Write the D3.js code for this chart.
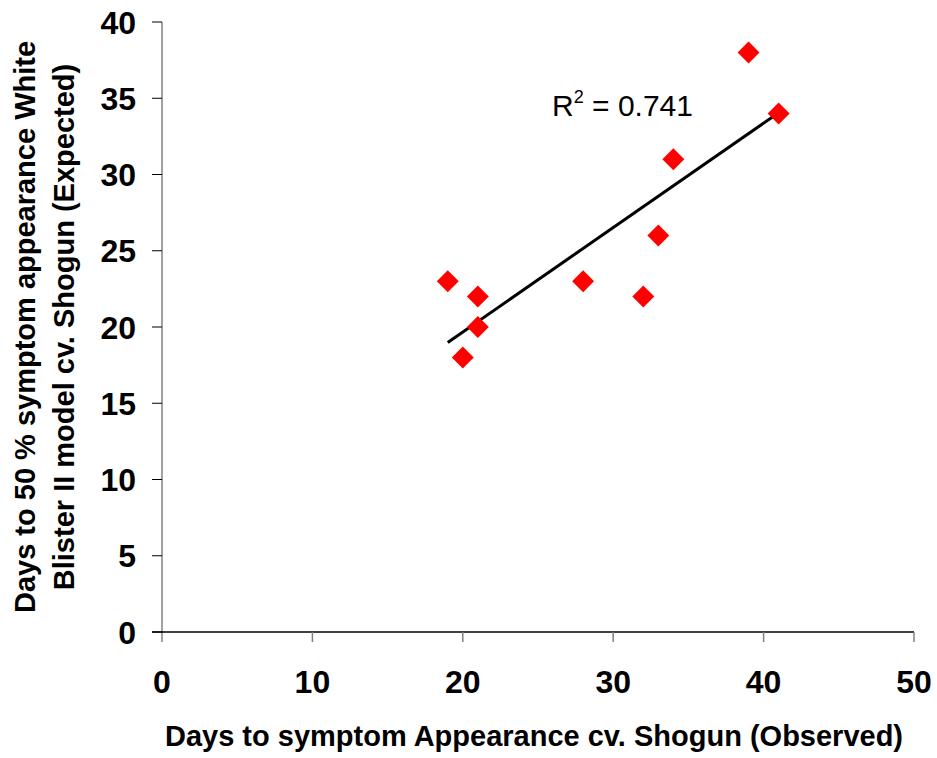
<!DOCTYPE html>
<html>
<head>
<meta charset="utf-8">
<script src="https://cdn.jsdelivr.net/npm/d3@7"></script>
<style>
  html, body { margin: 0; padding: 0; background: #fff; }
  svg text { font-family: Arial, "Liberation Sans", Helvetica, sans-serif; }
</style>
</head>
<body>
<svg id="chart" width="937" height="758"></svg>
<script>
// Observed vs. expected days to symptom appearance (cv. Shogun)
const observedDays = [19, 20, 21, 21, 28, 32, 33, 34, 39, 41];
const expectedDays = [23, 18, 22, 20, 23, 22, 26, 31, 38, 34];
const xTicks = [0, 10, 20, 30, 40, 50];
const yTicks = [0, 5, 10, 15, 20, 25, 30, 35, 40];

const xTitle = "Days to symptom Appearance cv. Shogun (Observed)";
const yTitleLines = ["Days to 50 % symptom appearance White", "Blister II model cv. Shogun (Expected)"];

const svg = d3.select("#chart");
const plot = { left: 162, right: 914, top: 22, bottom: 632 };

const x = d3.scaleLinear().domain([0, 50]).range([plot.left, plot.right]);
const y = d3.scaleLinear().domain([0, 40]).range([plot.bottom, plot.top]);

// Y axis: grey spine that runs down past the x axis, black ticks on the left
svg.append("line")
  .attr("x1", plot.left).attr("x2", plot.left)
  .attr("y1", y(40)).attr("y2", plot.bottom + 10)
  .attr("stroke", "#808080").attr("stroke-width", 1.5);
svg.append("g").selectAll("line").data(yTicks).join("line")
  .attr("x1", plot.left - 10).attr("x2", plot.left)
  .attr("y1", d => y(d)).attr("y2", d => y(d))
  .attr("stroke", "#000").attr("stroke-width", 1);
svg.append("g").selectAll("text").data(yTicks).join("text")
  .attr("x", plot.left - 26).attr("y", d => y(d))
  .attr("dy", "0.36em")
  .attr("text-anchor", "end")
  .attr("font-size", 32).attr("font-weight", "bold")
  .text(d => d);

// X axis: black spine, grey ticks below
svg.append("line")
  .attr("x1", plot.left - 10).attr("x2", plot.right)
  .attr("y1", plot.bottom).attr("y2", plot.bottom)
  .attr("stroke", "#000").attr("stroke-width", 1.5);
svg.append("g").selectAll("line").data(xTicks.filter(d => d > 0)).join("line")
  .attr("x1", d => x(d)).attr("x2", d => x(d))
  .attr("y1", plot.bottom).attr("y2", plot.bottom + 10)
  .attr("stroke", "#808080").attr("stroke-width", 1.5);
svg.append("g").selectAll("text").data(xTicks).join("text")
  .attr("x", d => x(d)).attr("y", 693)
  .attr("text-anchor", "middle")
  .attr("font-size", 32).attr("font-weight", "bold")
  .text(d => d);

// Axis titles
svg.append("text")
  .attr("x", 534).attr("y", 746)
  .attr("text-anchor", "middle")
  .attr("font-size", 29).attr("font-weight", "bold")
  .text(xTitle);

const yTitle = svg.append("text")
  .attr("transform", "translate(0,327) rotate(-90)")
  .attr("text-anchor", "middle")
  .attr("font-size", 29).attr("font-weight", "bold");
yTitle.selectAll("tspan").data(yTitleLines).join("tspan")
  .attr("x", 0).attr("y", (d, i) => 35 + i * 39)
  .text(d => d);

// Least-squares trend line through the points
const n = observedDays.length;
const mx = d3.mean(observedDays), my = d3.mean(expectedDays);
let sxy = 0, sxx = 0, syy = 0;
for (let i = 0; i < n; i++) {
  const dx = observedDays[i] - mx, dy = expectedDays[i] - my;
  sxy += dx * dy; sxx += dx * dx; syy += dy * dy;
}
const slope = sxy / sxx, intercept = my - slope * mx;
const r2 = (sxy * sxy) / (sxx * syy);
const [xMin, xMax] = d3.extent(observedDays);

svg.append("line")
  .attr("x1", x(xMin)).attr("y1", y(intercept + slope * xMin))
  .attr("x2", x(xMax)).attr("y2", y(intercept + slope * xMax))
  .attr("stroke", "#000").attr("stroke-width", 3);

// Diamond markers
const diamond = d3.symbol().type(d3.symbolSquare).size(240);
svg.append("g").selectAll("path").data(observedDays).join("path")
  .attr("d", diamond)
  .attr("transform", (d, i) => `translate(${x(d)},${y(expectedDays[i])}) rotate(45)`)
  .attr("fill", "#ff0000");

// R² annotation
const label = svg.append("text")
  .attr("x", 552).attr("y", 116)
  .attr("font-size", 30);
label.append("tspan").text("R");
label.append("tspan").attr("font-size", 18).attr("dy", -13).text("2");
label.append("tspan").attr("dy", 13).text(" = " + r2.toFixed(3));
</script>
</body>
</html>
